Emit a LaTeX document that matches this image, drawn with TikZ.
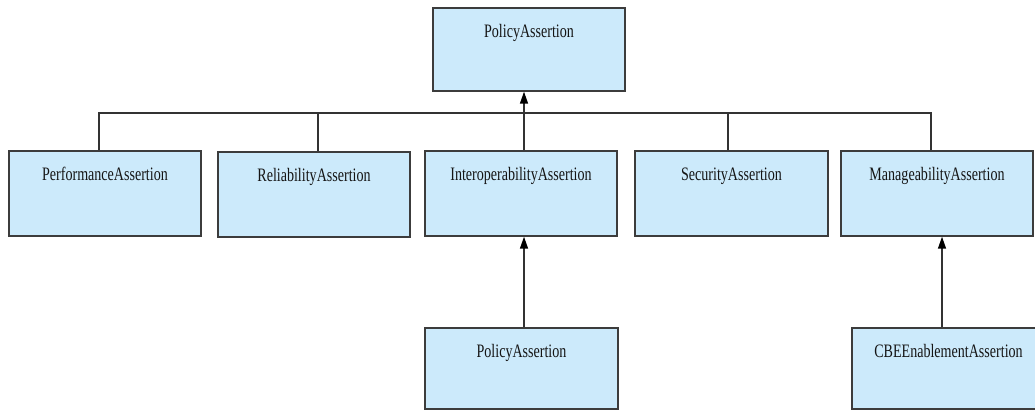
\documentclass[tikz,border=0pt]{standalone}
\usepackage{fontspec}
\newfontfamily\boxfont[FakeStretch=0.74]{Liberation Serif}
\usetikzlibrary{arrows.meta,calc}
\definecolor{boxfill}{HTML}{CCEAFB}
\definecolor{boxline}{HTML}{3C3C3C}
\definecolor{wire}{HTML}{333333}
\definecolor{ink}{HTML}{151515}
\begin{document}
\begin{tikzpicture}[x=1pt,y=-1pt,
  cls/.style={draw=boxline, fill=boxfill, line width=1.4pt, rectangle,
    minimum width=192pt, minimum height=84pt, inner sep=0pt,
    label={[anchor=base, label distance=-30pt, font=\boxfont\fontsize{19}{19}\selectfont, text=ink, inner sep=0pt]north:#1}},
  wireline/.style={draw=wire, line width=1.4pt},
  inherit/.style={wireline, -{Triangle[length=12pt,width=8pt,color=black]}}]
  \useasboundingbox (0,0) rectangle (1035,411);
  \begin{scope}
  \clip (0,0) rectangle (1035,411);
  % root class
  \node[cls=PolicyAssertion, minimum height=83pt] (root) at (529,49.5) {};
  % first level
  \node[cls=PerformanceAssertion, minimum height=85pt] (perf) at (105,193.5) {};
  \node[cls=ReliabilityAssertion, minimum height=85pt] (rel) at (314,194.5) {};
  \node[cls=InteroperabilityAssertion, minimum height=85pt] (interop) at (521,193.5) {};
  \node[cls=SecurityAssertion, minimum height=85pt, minimum width=193pt] (sec) at (731.5,193.5) {};
  \node[cls=ManageabilityAssertion, minimum height=85pt] (man) at (937,193.5) {};
  % second level
  \node[cls=PolicyAssertion, minimum height=81pt, minimum width=193pt] (pol) at (521.5,368.5) {};
  \node[cls=CBEEnablementAssertion, minimum height=81pt, minimum width=193pt] (cbe) at (948.5,368.5) {};
  \end{scope}
  % shared bus to the root
  \coordinate (busL) at (99,113);
  \coordinate (busR) at (931,113);
  \coordinate (busM) at (524,113);
  \coordinate (busRel) at (318,113);
  \coordinate (busSec) at (728,113);
  \coordinate (cbeX) at (942,300);
  \draw[wireline] (busL |- perf.north) -- (busL) -- (busR) -- (busR |- man.north);
  \draw[wireline] (busRel) -- (busRel |- rel.north);
  \draw[wireline] (busSec) -- (busSec |- sec.north);
  \draw[inherit] (busM |- interop.north) -- (busM |- root.south);
  % sub-classes
  \draw[inherit] (busM |- pol.north) -- (busM |- interop.south);
  \draw[inherit] (cbeX |- cbe.north) -- (cbeX |- man.south);
\end{tikzpicture}
\end{document}
